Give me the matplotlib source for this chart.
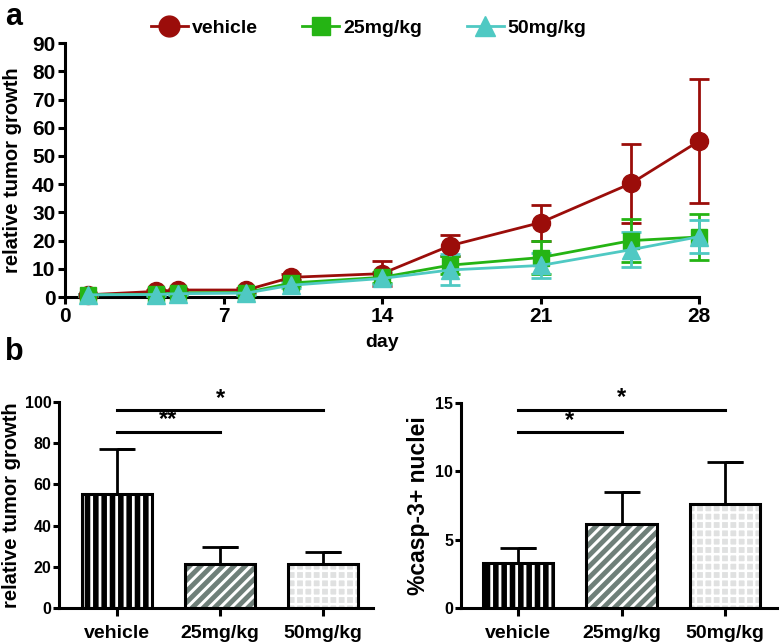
import matplotlib
matplotlib.use("Agg")
import matplotlib.pyplot as plt
from matplotlib.lines import Line2D
import numpy as np

plt.rcParams['font.family'] = ['Liberation Sans', 'DejaVu Sans']
plt.rcParams['font.weight'] = 'bold'

# ---- data: panel a ----
days = [1, 4, 5, 8, 10, 14, 17, 21, 25, 28]
vehicle = [0.8, 2.0, 2.5, 2.5, 7.0, 8.3, 18.2, 26.4, 40.3, 55.3]
vehicle_err = [0.3, 0.5, 0.5, 0.6, 1.0, 4.5, 3.8, 6.4, 14.0, 22.0]
mg25 = [0.8, 1.0, 1.5, 1.6, 5.0, 7.0, 11.3, 14.0, 20.0, 21.3]
mg25_err = [0.3, 0.4, 0.5, 0.6, 1.0, 2.0, 3.2, 5.8, 7.5, 8.2]
mg50 = [0.8, 0.9, 1.2, 1.4, 4.2, 6.6, 9.6, 11.2, 16.8, 21.4]
mg50_err = [0.3, 0.4, 0.5, 0.6, 1.0, 2.0, 5.5, 4.3, 6.2, 5.9]
series_names = ['vehicle', '25mg/kg', '50mg/kg']
x_ticks_a = [0, 7, 14, 21, 28]
y_ticks_a = [0, 10, 20, 30, 40, 50, 60, 70, 80, 90]

# ---- data: panel b ----
groups = ['vehicle', '25mg/kg', '50mg/kg']
growth = [55.2, 21.3, 21.4]
growth_err = [22.0, 8.2, 5.9]
casp = [3.3, 6.15, 7.6]
casp_err = [1.1, 2.35, 3.1]
growth_sig = [(0, 1, 85.5, '**'), (0, 2, 96.0, '*')]
casp_sig = [(0, 1, 12.85, '*'), (0, 2, 14.5, '*')]

colors = ['#9b0d0a', '#25b414', '#4fc9c3']
markers = ['o', 's', '^']
msizes = [13, 11.5, 12.5]

fig = plt.figure(figsize=(7.8, 6.43), dpi=100)

# ---------- panel a ----------
ax = fig.add_axes([0.0833, 0.538, 0.813, 0.395])
handles = []
for vals, errs, c, m, ms, name in zip([vehicle, mg25, mg50], [vehicle_err, mg25_err, mg50_err],
                                      colors, markers, msizes, series_names):
    ax.errorbar(days, vals, yerr=errs, color=c, marker=m, markersize=ms, lw=2,
                capsize=7, capthick=2, elinewidth=2, clip_on=False, zorder=3)
    handles.append(Line2D([], [], color=c, marker=m, markersize=ms + 2, lw=2, label=name))
ax.set_xlim(0, 28)
ax.set_ylim(0, 90)
ax.set_xticks(x_ticks_a)
ax.set_yticks(y_ticks_a)
for s in ['top', 'right']:
    ax.spines[s].set_visible(False)
for s in ['left', 'bottom']:
    ax.spines[s].set_linewidth(2.2)
ax.tick_params(width=2.2, length=5, pad=2, labelsize=15)
ax.set_xlabel('day', fontsize=14, fontweight='bold', labelpad=6)
ax.set_ylabel('relative tumor growth', fontsize=14.5, fontweight='bold')
ax.yaxis.set_label_coords(-0.067, 0.5)
leg = ax.legend(handles=handles, loc='lower left', bbox_to_anchor=(0.12, 0.985), ncol=3,
                frameon=False, fontsize=14, handlelength=1.9, columnspacing=2.3,
                handletextpad=0.2, borderaxespad=0.1)
fig.text(0.006, 0.973, 'a', fontsize=22, fontweight='bold', va='center')


def bar_panel(rect, values, errs, ylim, yticks, ylabel, ylsize, ylx, sigs, xlim):
    axb = fig.add_axes(rect)
    x = np.arange(len(values))
    w = 0.68
    plt.rcParams['hatch.linewidth'] = 4.0
    b0 = axb.bar(x[0], values[0], w, color='white', edgecolor='black', hatch='||', lw=0, zorder=2)
    plt.rcParams['hatch.linewidth'] = 3.5
    b1 = axb.bar(x[1], values[1], w, color='white', edgecolor='#6f7f79', hatch='///', lw=0, zorder=2)
    plt.rcParams['hatch.linewidth'] = 1.8
    b2 = axb.bar(x[2], values[2], w, color='#e0e1e1', edgecolor='white', hatch='++', lw=0, zorder=2)
    for bb, hl in zip([b0, b1, b2], [4.0, 3.5, 1.8]):
        for p in bb:
            if hasattr(p, 'set_hatch_linewidth'):
                p.set_hatch_linewidth(hl)
    axb.bar(x, values, w, fill=False, edgecolor='black', lw=2.2, zorder=3)
    axb.errorbar(x, values, yerr=[np.zeros(len(errs)), errs], fmt='none', ecolor='black',
                 elinewidth=2, capsize=13, capthick=2, zorder=1)
    for xi, v, e in zip(x, values, errs):
        axb.plot([xi, xi + 0.17], [v + e, v + e], color='black', lw=2, zorder=1,
                 solid_capstyle='butt')
    axb.set_xlim(*xlim)
    axb.set_ylim(*ylim)
    axb.set_yticks(yticks)
    axb.set_xticks(x)
    axb.set_xticklabels(groups)
    for s in ['top', 'right']:
        axb.spines[s].set_visible(False)
    for s in ['left', 'bottom']:
        axb.spines[s].set_linewidth(2.2)
    axb.tick_params(axis='y', width=2.2, length=4, labelsize=11.5, pad=1.5)
    axb.tick_params(axis='x', width=2.2, length=6, labelsize=14, pad=6)
    axb.set_ylabel(ylabel, fontsize=ylsize, fontweight='bold')
    axb.yaxis.set_label_coords(ylx, 0.5)
    span = ylim[1] - ylim[0]
    for i, j, yv, star in sigs:
        axb.plot([x[i], x[j]], [yv, yv], color='black', lw=2.2, clip_on=False, zorder=4)
        axb.text((x[i] + x[j]) / 2, yv + span * 0.003, star, ha='center', va='bottom',
                 fontsize=17, fontweight='bold', clip_on=False)
    return axb


bar_panel([0.0756, 0.0544, 0.4026, 0.3204], growth, growth_err, (0, 100),
          [0, 20, 40, 60, 80, 100], 'relative tumor growth', 14.5, -0.122, growth_sig,
          (-0.563, 2.485))
bar_panel([0.591, 0.0544, 0.405, 0.3189], casp, casp_err, (0, 15),
          [0, 5, 10, 15], '%casp-3+ nuclei', 16.5, -0.098, casp_sig, (-0.55, 2.5))
fig.text(0.006, 0.452, 'b', fontsize=22, fontweight='bold', va='center')

fig.savefig('out.png', dpi=100)
